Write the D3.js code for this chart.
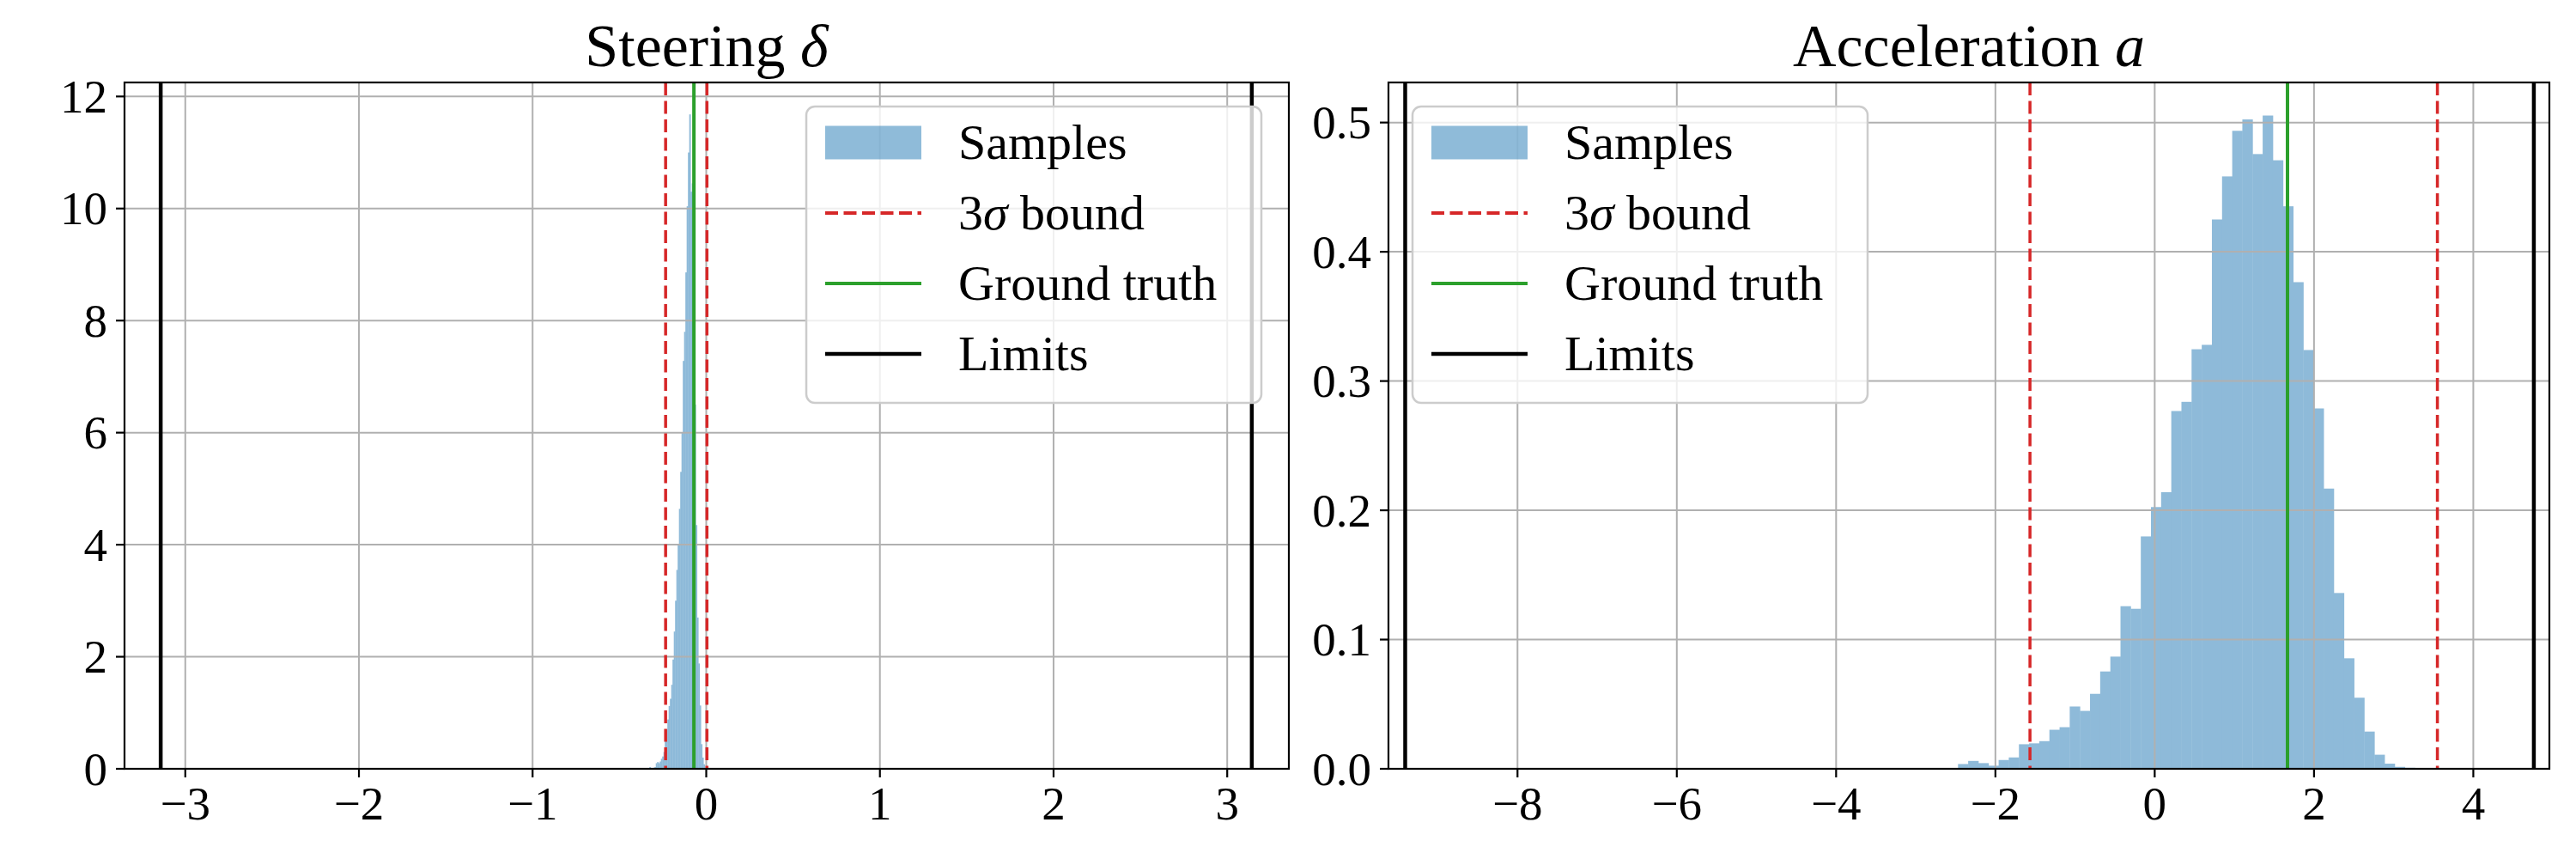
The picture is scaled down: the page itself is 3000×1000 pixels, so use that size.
<!DOCTYPE html>
<html>
<head>
<meta charset="utf-8">
<script src="https://cdn.jsdelivr.net/npm/d3@7"></script>
<style>
  body { margin: 0; background: #fff; }
  svg { display: block; font-family: "Liberation Serif", "DejaVu Serif", serif; }
</style>
</head>
<body>
<svg id="chart" width="3000" height="1000"></svg>
<script>
// ─── DATA (densities) ───

// steering histogram: first bin edge, bin width, densities
const steerBinStart = -0.3277;
const steerBinWidth = 0.00741;
const steerDensity = [
  0.03, 0.0, 0.0, 0.02, 0.03, 0.10, 0.12, 0.10, 0.13, 0.18,
  0.22, 0.30, 0.55, 0.70, 0.88, 1.12, 1.25, 1.50, 1.95, 2.45,
  3.00, 3.55, 4.00, 4.64, 5.30, 6.00, 7.28, 7.80, 8.86, 10.04,
  11.00, 11.68, 10.30, 10.45, 8.50, 6.50, 4.35, 2.70, 1.88, 1.13,
  0.44, 0.20, 0.08
];
const steerBounds = [-0.234, 0.004];
const steerTruth = -0.071;
const steerLimits = [-Math.PI, Math.PI];
const steerXDomain = [-3.35, 3.355];
const steerYDomain = [0, 12.25];
const steerXTicks = [-3, -2, -1, 0, 1, 2, 3];
const steerYTicks = [0, 2, 4, 6, 8, 10, 12];

// acceleration histogram
const accBinStart = -2.4695;
const accBinWidth = 0.1275;
const accDensity = [
  0.0037, 0.0061, 0.0044, 0.0024, 0.0068, 0.0088, 0.0190, 0.0197, 0.0214, 0.0302,
  0.0322, 0.0482, 0.0448, 0.0580, 0.0753, 0.0868, 0.1258, 0.1238, 0.1798, 0.2025,
  0.2140, 0.2768, 0.2839, 0.3246, 0.3280, 0.4250, 0.4583, 0.4936, 0.5024, 0.4756,
  0.5054, 0.4708, 0.4352, 0.3765, 0.3240, 0.2788, 0.2168, 0.1360, 0.0855, 0.0550,
  0.0288, 0.0109, 0.0040, 0.0015, 0.0008
];
const accBounds = [-1.566, 3.549];
const accTruth = 1.667;
const accLimits = [-9.41, 4.76];
const accXDomain = [-9.62, 4.955];
const accYDomain = [0, 0.531];
const accXTicks = [-8, -6, -4, -2, 0, 2, 4];
const accYTicks = [0, 0.1, 0.2, 0.3, 0.4, 0.5];

const legendItems = ['Samples', 'bound', 'Ground truth', 'Limits'];

// ─── STYLE ───
const BAR = '#1f77b4';
const RED = '#d62728';
const GREEN = '#2ca02c';
const GRID = '#b0b0b0';
const TOP = 96, BOTTOM = 895;

const svg = d3.select('#chart');

const fmtTick = (v, dec) => {
  const s = dec ? d3.format('.1f')(Math.abs(v)) : String(Math.abs(v));
  return (v < 0 ? '\u2212' : '') + s;
};

const drawPanel = (cfg) => {
  const x = d3.scaleLinear().domain(cfg.xDomain).range([cfg.left, cfg.right]);
  const y = d3.scaleLinear().domain(cfg.yDomain).range([BOTTOM, TOP]);
  const g = svg.append('g');

  g.append('clipPath').attr('id', cfg.id + '-clip')
    .append('rect').attr('x', cfg.left).attr('y', TOP)
    .attr('width', cfg.right - cfg.left).attr('height', BOTTOM - TOP);

  const plot = g.append('g').attr('clip-path', `url(#${cfg.id}-clip)`);

  // histogram bars (group opacity, so touching bars leave no seams)
  const bins = cfg.density.map((d, i) => ({
    x0: cfg.binStart + i * cfg.binWidth,
    x1: cfg.binStart + (i + 1) * cfg.binWidth,
    v: d
  }));
  plot.append('g').attr('opacity', 0.5)
    .selectAll('rect.bar').data(bins).enter().append('rect')
    .attr('class', 'bar')
    .attr('x', d => x(d.x0))
    .attr('width', d => x(d.x1) - x(d.x0) + 0.4)
    .attr('y', d => y(d.v))
    .attr('height', d => y(0) - y(d.v))
    .attr('fill', BAR);

  // grid
  plot.selectAll('line.gx').data(cfg.xTicks).enter().append('line')
    .attr('x1', d => x(d)).attr('x2', d => x(d))
    .attr('y1', TOP).attr('y2', BOTTOM)
    .attr('stroke', GRID).attr('stroke-width', 2);
  plot.selectAll('line.gy').data(cfg.yTicks).enter().append('line')
    .attr('x1', cfg.left).attr('x2', cfg.right)
    .attr('y1', d => y(d)).attr('y2', d => y(d))
    .attr('stroke', GRID).attr('stroke-width', 2);

  // vertical reference lines
  const vline = (v, color, w, dash) => {
    const l = plot.append('line')
      .attr('x1', x(v)).attr('x2', x(v)).attr('y1', TOP).attr('y2', BOTTOM)
      .attr('stroke', color).attr('stroke-width', w);
    if (dash) l.attr('stroke-dasharray', dash);
  };
  cfg.bounds.forEach(b => vline(b, RED, 3.5, '15,6.5'));
  vline(cfg.truth, GREEN, 4);
  cfg.limits.forEach(b => vline(b, '#000', 4.5));

  // spines
  g.append('rect').attr('x', cfg.left).attr('y', TOP)
    .attr('width', cfg.right - cfg.left).attr('height', BOTTOM - TOP)
    .attr('fill', 'none').attr('stroke', '#000').attr('stroke-width', 2.2);

  // x ticks
  const xt = g.selectAll('g.xt').data(cfg.xTicks).enter().append('g')
    .attr('transform', d => `translate(${x(d)},${BOTTOM})`);
  xt.append('line').attr('y1', 0).attr('y2', 10).attr('stroke', '#000').attr('stroke-width', 2.2);
  xt.append('text').attr('y', 59).attr('text-anchor', 'middle')
    .attr('font-size', 55).text(d => fmtTick(d, false));

  // y ticks
  const yt = g.selectAll('g.yt').data(cfg.yTicks).enter().append('g')
    .attr('transform', d => `translate(${cfg.left},${y(d)})`);
  yt.append('line').attr('x1', -10).attr('x2', 0).attr('stroke', '#000').attr('stroke-width', 2.2);
  yt.append('text').attr('x', -20).attr('y', 18.5).attr('text-anchor', 'end')
    .attr('font-size', 55).text(d => fmtTick(d, cfg.decimals));

  // title
  const t = g.append('text').attr('x', (cfg.left + cfg.right) / 2).attr('y', 77)
    .attr('text-anchor', 'middle').attr('font-size', 70);
  t.append('tspan').text(cfg.title + ' ');
  t.append('tspan').attr('font-style', 'italic').text(cfg.symbol);

  // legend
  const lg = g.append('g').attr('transform', `translate(${cfg.legendX},124)`);
  lg.append('rect').attr('width', 530).attr('height', 345).attr('rx', 10)
    .attr('fill', '#fff').attr('fill-opacity', 0.8)
    .attr('stroke', '#cccccc').attr('stroke-width', 2.5);
  const rowY = i => 42 + i * 82;
  lg.append('rect').attr('x', 22).attr('y', rowY(0) - 19.5).attr('width', 112).attr('height', 39)
    .attr('fill', BAR).attr('fill-opacity', 0.5);
  const legLine = (i, color, w, dash) => {
    const l = lg.append('line').attr('x1', 22).attr('x2', 134)
      .attr('y1', rowY(i)).attr('y2', rowY(i))
      .attr('stroke', color).attr('stroke-width', w);
    if (dash) l.attr('stroke-dasharray', '15,6.5');
  };
  legLine(1, RED, 4, true);
  legLine(2, GREEN, 4);
  legLine(3, '#000', 4.5);
  legendItems.forEach((s, i) => {
    const tx = lg.append('text').attr('x', 177).attr('y', rowY(i) + 19).attr('font-size', 58);
    if (i === 1) {
      tx.append('tspan').text('3');
      tx.append('tspan').attr('font-style', 'italic').text('\u03c3');
      tx.append('tspan').text(' ' + s);
    } else {
      tx.text(s);
    }
  });
};

drawPanel({
  id: 'steer', left: 145, right: 1501,
  xDomain: steerXDomain, yDomain: steerYDomain,
  xTicks: steerXTicks, yTicks: steerYTicks, decimals: false,
  binStart: steerBinStart, binWidth: steerBinWidth, density: steerDensity,
  bounds: steerBounds, truth: steerTruth, limits: steerLimits,
  title: 'Steering', symbol: '\u03b4', legendX: 939
});

drawPanel({
  id: 'acc', left: 1617, right: 2969,
  xDomain: accXDomain, yDomain: accYDomain,
  xTicks: accXTicks, yTicks: accYTicks, decimals: true,
  binStart: accBinStart, binWidth: accBinWidth, density: accDensity,
  bounds: accBounds, truth: accTruth, limits: accLimits,
  title: 'Acceleration', symbol: 'a', legendX: 1645
});
</script>
</body>
</html>
